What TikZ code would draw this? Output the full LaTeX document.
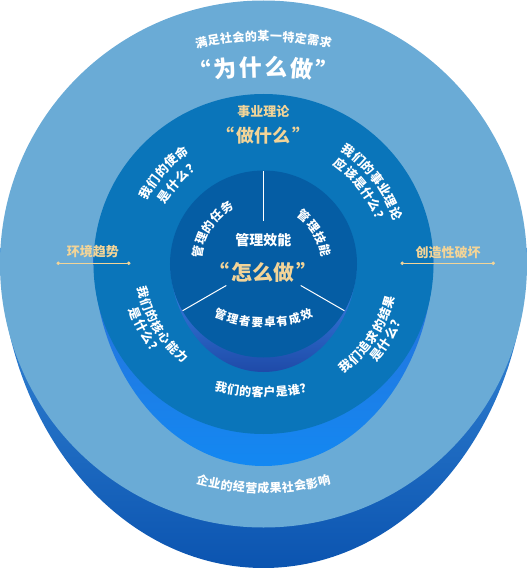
\documentclass[tikz,border=0pt]{standalone}
\usepackage{fontspec}
\setmainfont{Noto Sans CJK SC}
\usepackage{xcolor}
\usetikzlibrary{arrows.meta,positioning}

\definecolor{outerface}{RGB}{106,171,214}
\definecolor{outerside}{RGB}{61,143,220}
\definecolor{outerbase}{RGB}{11,84,176}
\definecolor{midface}{RGB}{10,117,186}
\definecolor{midside}{RGB}{43,111,214}
\definecolor{midbase}{RGB}{19,136,242}
\definecolor{innerface}{RGB}{5,93,164}
\definecolor{innerside}{RGB}{58,142,240}
\definecolor{innerbase}{RGB}{31,74,168}
\definecolor{gold}{RGB}{242,212,152}

% one line of characters on an arc:
% #1 name, #2 size, #3 pitch, #4 radius, #5 centre angle, #6 side (1 tops out, -1 tops in), #7 count, #8 chars
\newcommand\arcline[8]{%
  \foreach \ch [count=\k] in {#8}{%
    \pgfmathsetmacro\ang{#5-(#6)*(\k-(#7+1)/2)*#3/#4*57.2958}%
    \pgfmathsetmacro\rot{\ang-(#6)*90}%
    \node[arcchar=#2, rotate=\rot] (#1-\k) at (\ang:#4) {\ch};
  }}

\begin{document}
\begin{tikzpicture}[
  x=1pt, y=1pt,
  txt/.style={font=\fontsize{#1}{#1}\selectfont\bfseries, text=white, inner sep=0pt},
  goldtxt/.style={font=\fontsize{#1}{#1}\selectfont\bfseries, text=gold, inner sep=0pt},
  arcchar/.style={font=\fontsize{#1}{#1}\selectfont\bfseries, text=white, inner sep=0pt, text height=0.83em, text depth=0.07em},
  trend/.style={gold, line width=0.8pt, {Circle[length=3.5pt]}-{Circle[length=3.5pt]}},
  divider/.style={white, line width=1pt}
]
\useasboundingbox (-263.5,-304) rectangle (263.5,264);

% Disks
\shade[top color=outerside, bottom color=outerbase] (-263.5,16) arc[start angle=180, end angle=360, x radius=263.5, y radius=320] -- cycle;
\fill[outerface] (0,0) circle[radius=263.5];
\shade[top color=midside, bottom color=midbase] (-170,10) arc[start angle=180, end angle=360, x radius=170, y radius=212] -- cycle;
\fill[midface] (0,0) circle[radius=170];
\shade[top color=innerside, bottom color=innerbase] (-93.5,5) arc[start angle=180, end angle=360, x radius=93.5, y radius=113] -- cycle;
\fill[innerface] (0,0) circle[radius=93.5];

% Dividers
\coordinate (hubA) at (90:43);  \coordinate (rimA) at (90:93.5);
\coordinate (hubB) at (210:43); \coordinate (rimB) at (210:93.5);
\coordinate (hubC) at (330:43); \coordinate (rimC) at (330:93.5);
\draw[divider] (hubA) -- (rimA);
\draw[divider] (hubB) -- (rimB);
\draw[divider] (hubC) -- (rimC);

% Side labels
\coordinate (envA) at (-207,0.7); \coordinate (envB) at (-133,0.7);
\coordinate (crsA) at (137,0.7);  \coordinate (crsB) at (231.5,0.7);
\draw[trend] (envA) -- (envB);
\draw[trend] (crsA) -- (crsB);
\node[goldtxt=13] (env) at (-170.5,12) {环境趋势};
\node[goldtxt=13] (crs) at (184.5,11.5) {创造性破坏};

% Centre texts
\node[goldtxt=13] (theory) at (0,152) {事业理论};
\node[goldtxt=18] (what) at (0,128) {“\kern2pt 做什么\kern2pt ”};
\node[txt=14] (eff) at (0,24) {管理效能};
\node[goldtxt=21] (how) at (0,-8) {“\kern2pt 怎么做\kern2pt ”};

% Outer ring
\begin{scope}[shift={(0,-73)}]
  \arcline{need}{12}{12.5}{300}{90}{1}{11}{满,足,社,会,的,某,一,特,定,需,求}
\end{scope}
\begin{scope}[shift={(0,-208)}]
  \arcline{why}{23}{25}{400}{90}{1}{6}{“,为,什,么,做,”}
\end{scope}
\begin{scope}[shift={(0,25)}]
  \arcline{result}{12}{12.3}{250}{270}{-1}{11}{企,业,的,经,营,成,果,社,会,影,响}
\end{scope}

% Middle ring
\arcline{missA}{12.5}{13.5}{137}{137.5}{1}{5}{我,们,的,使,命}
\arcline{missB}{12.5}{13.5}{119}{136}{1}{4}{是,什,么,？}
\arcline{bizA}{12.5}{13.2}{141}{37}{1}{7}{我,们,的,事,业,理,论}
\arcline{bizB}{12.5}{13.2}{125}{37}{1}{6}{应,该,是,什,么,？}
\arcline{coreA}{12}{12.7}{124}{211}{-1}{7}{我,们,的,核,心,能,力}
\arcline{coreB}{12.5}{13.5}{138}{209.5}{-1}{4}{是,什,么,？}
\arcline{goalA}{12.5}{13.2}{132}{326}{-1}{7}{我,们,追,求,的,结,果}
\arcline{goalB}{12.5}{13.2}{146}{329}{-1}{4}{是,什,么,？}
\begin{scope}[shift={(0,71)}]
  \arcline{cust}{12}{12.2}{200}{270}{-1}{8}{我,们,的,客,户,是,谁,？}
\end{scope}

% Inner ring
\arcline{task}{12}{13.4}{66}{146}{1}{5}{管,理,的,任,务}
\arcline{skill}{12}{13.4}{62}{31}{1}{4}{管,理,技,能}
\begin{scope}[shift={(0,61)}]
  \arcline{exec}{11.5}{12.6}{120}{270}{-1}{8}{管,理,者,要,卓,有,成,效}
\end{scope}

\end{tikzpicture}
\end{document}
